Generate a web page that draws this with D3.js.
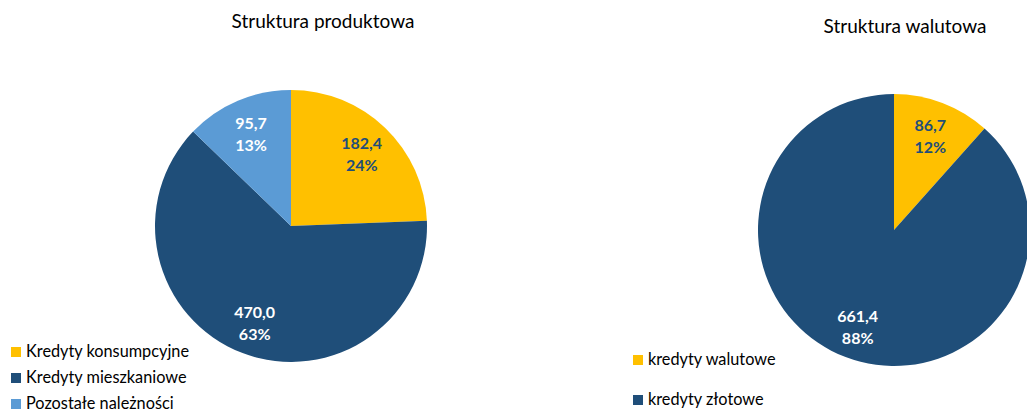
<!DOCTYPE html>
<html>
<head>
<meta charset="utf-8">
<script src="https://cdn.jsdelivr.net/npm/d3@7"></script>
<style>
  html, body { margin: 0; padding: 0; background: #fff; }
  svg { display: block; }
  text { font-family: Lato, "Open Sans", sans-serif; }
</style>
</head>
<body>
<svg id="chart" width="1027" height="410"></svg>
<script>
// Loan portfolio structure (bn PLN)
const productCategories = ["Kredyty konsumpcyjne", "Kredyty mieszkaniowe", "Pozostałe należności"];
const productValues = [182.4, 470.0, 95.7];

const currencyCategories = ["kredyty walutowe", "kredyty złotowe"];
const currencyValues = [86.7, 661.4];

const titles = ["Struktura produktowa", "Struktura walutowa"];

const colors = ["#FFC000", "#1F4E79", "#5B9BD5"];
const labelColors = ["#1F4E79", "#FFFFFF", "#FFFFFF"];

const svg = d3.select("#chart");
const fmtValue = v => d3.format(".1f")(v).replace(".", ",");

function drawPie(opts) {
  const { categories, values, cx, cy, r, title, titleX, titleY, legendX, legendY, legendStep } = opts;
  const data = categories.map((c, i) => ({ category: c, value: values[i], i }));
  const total = d3.sum(values);

  const pie = d3.pie().sort(null).value(d => d.value);
  const arc = d3.arc().innerRadius(0).outerRadius(r);
  const labelArc = d3.arc().innerRadius(r * 0.75).outerRadius(r * 0.75);

  const g = svg.append("g").attr("transform", `translate(${cx},${cy})`);
  const arcs = pie(data);

  g.selectAll("path.slice")
    .data(arcs)
    .join("path")
    .attr("class", "slice")
    .attr("d", arc)
    .attr("fill", d => colors[d.data.i]);

  const labels = g.selectAll("text.lbl")
    .data(arcs)
    .join("text")
    .attr("class", "lbl")
    .attr("transform", d => `translate(${labelArc.centroid(d)})`)
    .attr("text-anchor", "middle")
    .attr("font-size", 16)
    .attr("font-weight", "bold")
    .attr("fill", d => labelColors[d.data.i]);
  labels.append("tspan").attr("x", 0).attr("dy", "-0.2em").text(d => fmtValue(d.data.value));
  labels.append("tspan").attr("x", 0).attr("dy", "1.35em").text(d => Math.round(d.data.value / total * 100) + "%");

  svg.append("text")
    .attr("x", titleX).attr("y", titleY)
    .attr("text-anchor", "middle")
    .attr("font-size", 19)
    .attr("fill", "#000")
    .text(title);

  const lg = svg.append("g").attr("transform", `translate(${legendX},${legendY})`);
  const items = lg.selectAll("g.item")
    .data(data)
    .join("g")
    .attr("class", "item")
    .attr("transform", (d, i) => `translate(0,${i * legendStep})`);
  items.append("rect")
    .attr("x", 0).attr("y", -10)
    .attr("width", 10).attr("height", 10)
    .attr("fill", d => colors[d.i]);
  items.append("text")
    .attr("x", 15).attr("y", 0)
    .attr("font-size", 16.3)
    .attr("fill", "#000")
    .text(d => d.category);
}

drawPie({
  categories: productCategories, values: productValues,
  cx: 291, cy: 226, r: 136,
  title: titles[0], titleX: 323, titleY: 28,
  legendX: 11, legendY: 357, legendStep: 26
});

drawPie({
  categories: currencyCategories, values: currencyValues,
  cx: 894, cy: 230, r: 136,
  title: titles[1], titleX: 905, titleY: 33,
  legendX: 633, legendY: 365, legendStep: 40
});
</script>
</body>
</html>
